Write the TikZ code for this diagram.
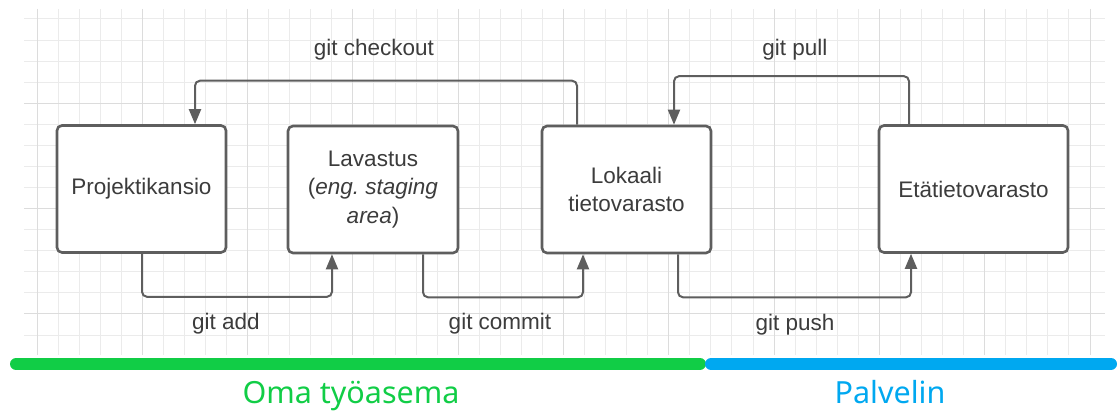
\documentclass[tikz,border=0pt]{standalone}
\usepackage{fontspec}
\setmainfont{Liberation Sans}
\newfontfamily\barfont{Noto Sans}
\usepackage{tikz}
\usetikzlibrary{arrows.meta,positioning}
\definecolor{gridminor}{HTML}{EBEBEB}
\definecolor{gridmajor}{HTML}{DCDCDC}
\definecolor{edgegray}{HTML}{5E5E5E}
\definecolor{textgray}{HTML}{3C3C3C}
\definecolor{omagreen}{HTML}{11CD46}
\definecolor{servblue}{HTML}{00A8F0}
\tikzset{
    >={Triangle[length=15pt,width=12pt]},
    store/.style={
        rectangle,
        rounded corners=5pt,
        draw=edgegray,
        line width=2.6pt,
        fill=white,
        align=center,
        text=textgray,
        font=\fontsize{22.5}{28.5}\selectfont,
        minimum height=127pt
    },
    cmd/.style={->, draw=edgegray, line width=2pt, rounded corners=5pt},
    cmdlabel/.style={text=textgray, font=\fontsize{22.5}{26}\selectfont},
    side/.style={font=\barfont\fontsize{30.5}{36}\selectfont, anchor=base}
}

\begin{document}
\begin{tikzpicture}[x=1pt, y=1pt]
\useasboundingbox (0,0) rectangle (1120,412);

% grid
\foreach \i in {0,...,50}
    \draw[gridminor, line width=1pt] ({37+21.06*\i},403) -- ({37+21.06*\i},57);
\foreach \j in {0,...,15}
    \draw[gridminor, line width=1pt] (24,{393-21.07*\j}) -- (1105,{393-21.07*\j});
\foreach \i in {0,5,...,50}
    \draw[gridmajor, line width=1pt] ({37+21.06*\i},403) -- ({37+21.06*\i},57);
\foreach \j in {4,9,14}
    \draw[gridmajor, line width=1pt] (24,{393-21.07*\j}) -- (1105,{393-21.07*\j});

\node[store, minimum width=169pt] (projekti) at (141.5,223) {Projektikansio};
\node[store, minimum width=170pt] (lavastus) at (373,222.5)
    {Lavastus\\(\textit{eng.\ staging}\\\textit{area})};
\node[store, minimum width=169pt] (lokaali) at (626.5,222.5) {Lokaali\\tietovarasto};
\node[store, minimum width=189pt] (etavarasto) at (973.5,223) {Etätietovarasto};

% commands
\draw[cmd] ([xshift=-49.5pt]lokaali.north) -- ++(0,44) -| ([xshift=53.5pt]projekti.north);
\draw[cmd] ([xshift=-64.5pt]etavarasto.north) -- ++(0,48) -| ([xshift=47.5pt]lokaali.north);
\draw[cmd] ([xshift=0.5pt]projekti.south) -- ++(0,-43) -| ([xshift=-41pt]lavastus.south);
\draw[cmd] ([xshift=50pt]lavastus.south) -- ++(0,-43) -| ([xshift=-43.5pt]lokaali.south);
\draw[cmd] ([xshift=51.5pt]lokaali.south) -- ++(0,-43) -| ([xshift=-62.5pt]etavarasto.south);

\node[cmdlabel] (lcheckout) at (374,362) {git checkout};
\node[cmdlabel] (lpull) at (795,362) {git pull};
\node[cmdlabel] (ladd) at (226,88) {git add};
\node[cmdlabel] (lcommit) at (500,88) {git commit};
\node[cmdlabel] (lpush) at (795,87) {git push};

% workstation / server bars
\draw[omagreen, line width=12pt, line cap=round] (16,48) -- (700,48);
\draw[servblue, line width=12pt, line cap=round] (711,48) -- (1111,48);

\node[side, text=omagreen] (loma) at (351,8.5) {Oma työasema};
\node[side, text=servblue] (lpalvelin) at (890,8.5) {Palvelin};

\end{tikzpicture}
\end{document}
